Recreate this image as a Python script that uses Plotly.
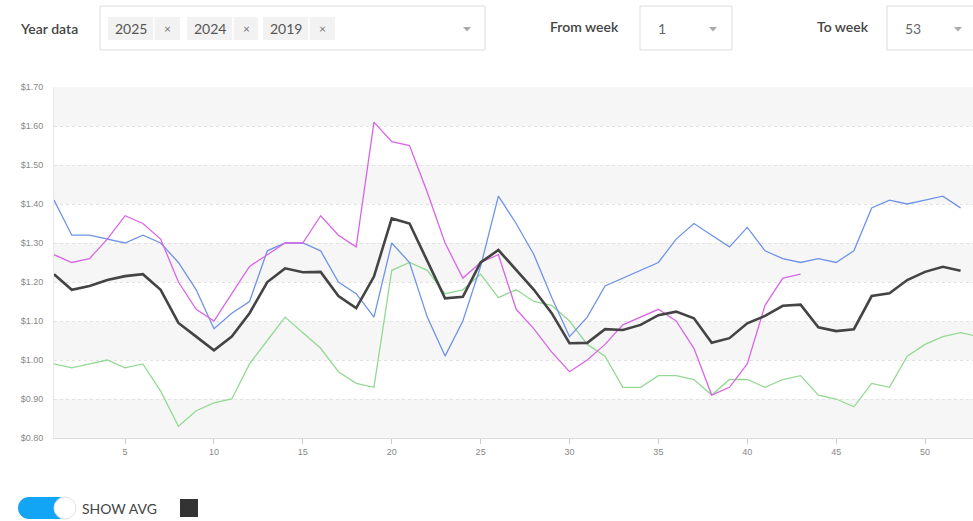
import plotly.graph_objects as go

# ---------------- data ----------------
weeks_2025 = list(range(1, 44))
price_2025 = [1.27, 1.25, 1.26, 1.31, 1.37, 1.35, 1.31, 1.20, 1.13, 1.10,
              1.17, 1.24, 1.27, 1.30, 1.30, 1.37, 1.32, 1.29, 1.61, 1.56,
              1.55, 1.43, 1.30, 1.21, 1.25, 1.27, 1.13, 1.08, 1.02, 0.97,
              1.00, 1.04, 1.09, 1.11, 1.13, 1.10, 1.03, 0.91, 0.93, 0.99,
              1.14, 1.21, 1.22]

weeks_2024 = list(range(1, 53))
price_2024 = [1.41, 1.32, 1.32, 1.31, 1.30, 1.32, 1.30, 1.25, 1.18, 1.08,
              1.12, 1.15, 1.28, 1.30, 1.30, 1.28, 1.20, 1.17, 1.11, 1.30,
              1.25, 1.11, 1.01, 1.10, 1.24, 1.42, 1.35, 1.27, 1.16, 1.06,
              1.11, 1.19, 1.21, 1.23, 1.25, 1.31, 1.35, 1.32, 1.29, 1.34,
              1.28, 1.26, 1.25, 1.26, 1.25, 1.28, 1.39, 1.41, 1.40, 1.41,
              1.42, 1.39]

weeks_2019 = list(range(1, 54))
price_2019 = [0.99, 0.98, 0.99, 1.00, 0.98, 0.99, 0.92, 0.83, 0.87, 0.89,
              0.90, 0.99, 1.05, 1.11, 1.07, 1.03, 0.97, 0.94, 0.93, 1.23,
              1.25, 1.23, 1.17, 1.18, 1.22, 1.16, 1.18, 1.15, 1.14, 1.10,
              1.04, 1.01, 0.93, 0.93, 0.96, 0.96, 0.95, 0.91, 0.95, 0.95,
              0.93, 0.95, 0.96, 0.91, 0.90, 0.88, 0.94, 0.93, 1.01, 1.04,
              1.06, 1.07, 1.06]

weeks_avg = list(range(1, 53))
price_avg = [1.22, 1.18, 1.19, 1.205, 1.215, 1.22, 1.18, 1.095, 1.06, 1.025,
             1.06, 1.12, 1.20, 1.235, 1.225, 1.226, 1.164, 1.133, 1.214, 1.363,
             1.35, 1.256, 1.158, 1.162, 1.25, 1.282, 1.231, 1.18, 1.12, 1.043,
             1.044, 1.079, 1.077, 1.09, 1.115, 1.124, 1.107, 1.044, 1.056, 1.094,
             1.113, 1.139, 1.142, 1.084, 1.074, 1.079, 1.164, 1.171, 1.205, 1.226,
             1.239, 1.229]

x_ticks = [5, 10, 15, 20, 25, 30, 35, 40, 45, 50]
y_ticks = [0.8, 0.9, 1.0, 1.1, 1.2, 1.3, 1.4, 1.5, 1.6, 1.7]
band_ranges = [(0.8, 0.9), (1.0, 1.1), (1.2, 1.3), (1.4, 1.5), (1.6, 1.7)]
selected_years = ["2025", "2024", "2019"]

# ---------------- layout helpers ----------------
W, H = 973, 521
def fx(p):
    return p / W
def fy(p):
    return 1 - p / H

PLOT_L, PLOT_T, PLOT_B = 54, 87, 438

fig = go.Figure()
fig.add_trace(go.Scatter(x=weeks_2019, y=price_2019, mode="lines",
                         line=dict(color="#93d993", width=1.3), name="2019"))
fig.add_trace(go.Scatter(x=weeks_2024, y=price_2024, mode="lines",
                         line=dict(color="#6f93e6", width=1.3), name="2024"))
fig.add_trace(go.Scatter(x=weeks_2025, y=price_2025, mode="lines",
                         line=dict(color="#d866e6", width=1.3), name="2025"))
fig.add_trace(go.Scatter(x=weeks_avg, y=price_avg, mode="lines",
                         line=dict(color="#444444", width=2.6), name="AVG"))

shapes = []
for lo, hi in band_ranges:
    shapes.append(dict(type="rect", xref="paper", yref="y", x0=fx(PLOT_L), x1=1,
                       y0=lo, y1=hi, fillcolor="#f6f6f6", line=dict(width=0),
                       layer="below"))

def box(x0, y0, x1, y1, fill="white", line="#dddddd"):
    shapes.append(dict(type="rect", xref="paper", yref="paper",
                       x0=fx(x0), x1=fx(x1), y0=fy(y1), y1=fy(y0),
                       fillcolor=fill, line=dict(color=line, width=1) if line else dict(width=0)))

def tri(cx, cy, color="#aaaaaa"):
    path = "M {} {} L {} {} L {} {} Z".format(fx(cx - 4), fy(cy - 2), fx(cx + 4), fy(cy - 2), fx(cx), fy(cy + 2.5))
    shapes.append(dict(type="path", xref="paper", yref="paper", path=path,
                       fillcolor=color, line=dict(width=0)))

annotations = []
def text(x, y, s, size=13, color="#444444", anchor="left", family="Lato", weight=None):
    f = dict(size=size, color=color, family=family)
    if weight:
        f["weight"] = weight
    annotations.append(dict(xref="paper", yref="paper", x=fx(x), y=fy(y), text=s,
                            showarrow=False, xanchor=anchor, yanchor="middle", font=f))

# top controls
text(18, 28, "Year data", size=14, color="#444444", weight=600)
box(100, 6, 485, 50)
chip_x = [(108, 180), (187, 258), (263, 335)]
for (a, b), yr in zip(chip_x, selected_years):
    box(a, 17, b, 40, fill="#f2f2f2", line=None)
    text(a + 5, 29, yr, size=14, color="#555555")
    shapes.append(dict(type="line", xref="paper", yref="paper", x0=fx(a + 46), x1=fx(a + 46),
                       y0=fy(17), y1=fy(40), line=dict(color="#ffffff", width=1.5)))
    text(a + 59, 29, "×", size=12, color="#777777", anchor="center")
tri(467, 29)

text(548, 26, "From week", size=14, color="#444444", weight=600)
box(640, 6, 732, 50)
text(656, 29, "1", size=14, color="#666666")
tri(713, 29)

text(815, 26, "To week", size=14, color="#444444", weight=600)
box(887, 6, 990, 50)
text(903, 29, "53", size=14, color="#666666")
tri(958, 29)

# bottom toggle
shapes.append(dict(type="circle", xref="paper", yref="paper", x0=fx(18), x1=fx(40),
                   y0=fy(519), y1=fy(497), fillcolor="#12a4f5", line=dict(width=0)))
box(29, 497, 62, 519, fill="#12a4f5", line=None)
shapes.append(dict(type="circle", xref="paper", yref="paper", x0=fx(54), x1=fx(76),
                   y0=fy(519), y1=fy(497), fillcolor="#ffffff", line=dict(color="#e0e0e0", width=1)))
text(80, 508, "SHOW AVG", size=14, color="#444444")
box(180, 499, 198, 517, fill="#333333", line=None)

fig.update_layout(
    width=W, height=H,
    margin=dict(l=0, r=0, t=0, b=0),
    paper_bgcolor="white", plot_bgcolor="white",
    showlegend=False,
    shapes=shapes, annotations=annotations,
    xaxis=dict(domain=[fx(PLOT_L), 1], range=[1, 52.7], tickvals=x_ticks,
               ticks="outside", ticklen=5, tickcolor="#cccccc", showline=True,
               linecolor="#dddddd", linewidth=1, showgrid=False, zeroline=False,
               tickfont=dict(size=9, color="#888888", family="Liberation Sans"),
               automargin=False, fixedrange=True),
    yaxis=dict(domain=[fy(PLOT_B), fy(PLOT_T)], range=[0.8, 1.7], tickvals=y_ticks,
               tickformat="$.2f", showgrid=True, gridcolor="#e2e2e2", griddash="dot",
               gridwidth=1, showline=True, linecolor="#e8e8e8", zeroline=False,
               ticks="outside", ticklen=8, tickcolor="rgba(0,0,0,0)",
               tickfont=dict(size=9, color="#888888", family="Liberation Sans"),
               automargin=False, fixedrange=True),
)

fig.write_html("out.html", config={"displayModeBar": False})
